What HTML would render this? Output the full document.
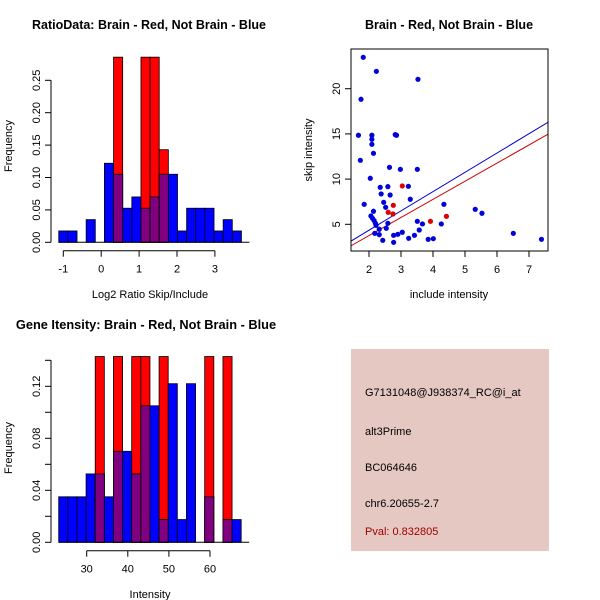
<!DOCTYPE html>
<html><head><meta charset="utf-8"><style>
body{margin:0;background:#fff}
svg{display:block;font-family:"Liberation Sans",sans-serif}
</style></head><body>
<svg id="s" width="600" height="600" viewBox="0 0 600 600">
<rect width="600" height="600" fill="#fff"/>
<text x="149" y="29" text-anchor="middle" font-weight="bold" font-size="12.5">RatioData: Brain - Red, Not Brain - Blue</text>
<text x="449" y="29" text-anchor="middle" font-weight="bold" font-size="12.5">Brain - Red, Not Brain - Blue</text>
<text x="146" y="329" text-anchor="middle" font-weight="bold" font-size="12.8">Gene Itensity: Brain - Red, Not Brain - Blue</text>
<text x="150" y="298" text-anchor="middle" font-size="11">Log2 Ratio Skip/Include</text>
<text transform="translate(12,146) rotate(-90)" text-anchor="middle" font-size="11">Frequency</text>
<text x="449" y="298" text-anchor="middle" font-size="11">include intensity</text>
<text transform="translate(312,150) rotate(-90)" text-anchor="middle" font-size="11">skip intensity</text>
<text x="150" y="598" text-anchor="middle" font-size="11">Intensity</text>
<text transform="translate(12,448) rotate(-90)" text-anchor="middle" font-size="11">Frequency</text>
<g>
<rect x="351" y="349" width="198" height="202" fill="#e5c8c1"/>
<text x="365" y="396" font-size="11">G7131048@J938374_RC@i_at</text>
<text x="365" y="435" font-size="11">alt3Prime</text>
<text x="365" y="471" font-size="11">BC064646</text>
<text x="365" y="507" font-size="11">chr6.20655-2.7</text>
<text x="365" y="535" font-size="11" fill="#a00000">Pval: 0.832805</text>
</g>
<g id="g"></g>
</svg>
<script>
// Ratio histogram
const ratioStart = -1.12, ratioBinW = 0.241;
const ratioBlue = [0.0175,0.0175,0,0.035,0,0.122,0.105,0.0526,0.07,0.0526,0.07,0.105,0.105,0.0175,0.0526,0.0526,0.0526,0.0175,0.035,0.0175];
const ratioRed = [0,0,0,0,0,0,0.2857,0,0,0.2857,0.2857,0.1429,0,0,0,0,0,0,0,0];
const ratioXTicks = [-1,0,1,2,3];
const ratioYTicks = [0,0.05,0.10,0.15,0.20,0.25];
const ratioYLabels = ["0.00","0.05","0.10","0.15","0.20","0.25"];
// Intensity histogram
const intStart = 23.19, intBinW = 2.22;
const intBlue = [0.035,0.035,0.035,0.0526,0.0526,0.035,0.07,0.07,0.0526,0.105,0.105,0.0175,0.122,0.0175,0.122,0,0.035,0,0.0175,0.0175];
const intRed = [0,0,0,0,0.1429,0,0.1429,0,0.1429,0.1429,0,0.1429,0,0,0,0,0.1429,0,0.1429,0];
const intXTicks = [30,40,50,60];
const intYTicks = [0,0.02,0.04,0.06,0.08,0.10,0.12,0.14];
const intYLabels = ["0.00","","0.04","","0.08","","0.12",""];
// Scatter
const blueX = [1.82,2.23,3.53,1.75,1.67,2.09,2.09,2.09,2.14,1.73,2.82,2.86,2.64,2.98,3.51,2.04,2.35,2.59,3.23,2.38,2.66,3.29,1.85,2.46,2.52,2.14,4.34,5.32,5.53,2.06,2.11,2.16,2.2,2.22,2.59,2.54,2.32,3.51,3.67,4.26,3.57,2.18,2.32,2.43,2.77,2.9,3.04,2.77,3.24,3.42,3.85,4.01,6.51,7.39];
const blueY = [23.47,21.92,21.04,18.83,14.85,14.85,14.4,13.85,12.85,12.08,14.92,14.85,11.3,11.08,11.08,10.09,9.09,9.17,9.2,8.36,8.24,7.77,7.21,7.43,6.88,6.44,7.21,6.66,6.22,5.92,5.66,5.41,5.11,4.89,5.11,4.56,4.45,5.33,5.04,5.04,4.37,4.0,3.86,3.23,3.78,3.89,4.12,3.01,3.45,3.78,3.34,3.41,4.0,3.34];
const redX = [3.04,2.76,2.6,2.75,3.92,4.42];
const redY = [9.24,7.1,6.33,6.14,5.33,5.88];
const fitBlue = [0.076,2.135]; // intercept, slope
const fitRed = [-0.26,2.005];
const scXTicks = [2,3,4,5,6,7];
const scYTicks = [5,10,15,20];

const NS="http://www.w3.org/2000/svg", G=document.getElementById('g');
function mk(t,a,p){const e=document.createElementNS(NS,t);for(const k in a)e.setAttribute(k,a[k]);(p||G).appendChild(e);return e;}

function hist(start,bw,blue,red,xs,ys,ym,xt,yt,yl,axY,pref){
  const g=mk('g',{});
  
  
  const y0=ys(0);
  blue.forEach((v,i)=>{
    const x1=xs(start+i*bw),x2=xs(start+(i+1)*bw),r=red[i];
    if(v>0){const b=mk('rect',{x:x1,y:ys(v),width:x2-x1,height:y0-ys(v),fill:'#0000ff',stroke:'#000','stroke-width':0.8},g);
      
      }
    if(r>0){const rr=mk('rect',{x:x1,y:ys(r),width:x2-x1,height:y0-ys(r),fill:'#ff0000',stroke:'#000','stroke-width':0.8},g);
      
      
      if(v>0){const m=Math.min(v,r);const pp=mk('rect',{x:x1,y:ys(m),width:x2-x1,height:y0-ys(m),fill:'#800080',stroke:'#000','stroke-width':0.8},g);
        
        }}
  });
  mk('line',{x1:51,x2:51,y1:ys(yt[0]),y2:ys(yt[yt.length-1]),stroke:'#000'},g);
  yt.forEach((t,i)=>{mk('line',{x1:45,x2:51,y1:ys(t),y2:ys(t),stroke:'#000'},g);
    if(yl[i]){const tx=mk('text',{transform:`translate(40,${ys(t)}) rotate(-90)`,'text-anchor':'middle','font-size':11},g);tx.textContent=yl[i];
      
      }});
  mk('line',{x1:xs(start),x2:xs(start+blue.length*bw)+8,y1:y0,y2:y0,stroke:'#000'},g);
  mk('line',{x1:xs(xt[0]),x2:xs(xt[xt.length-1]),y1:axY,y2:axY,stroke:'#000'},g);
  xt.forEach(t=>{mk('line',{x1:xs(t),x2:xs(t),y1:axY,y2:axY+6,stroke:'#000'},g);
    const tx=mk('text',{x:xs(t),y:axY+22,'text-anchor':'middle','font-size':11},g);tx.textContent=t;
    
    });
}
hist(ratioStart,ratioBinW,ratioBlue,ratioRed,v=>63.3+(v+1)*37.9,v=>242.3-v*648,0,ratioXTicks,ratioYTicks,ratioYLabels,250.7,'ratio');
hist(intStart,intBinW,intBlue,intRed,v=>86.7+(v-30)*4.11,v=>542.3-v*1300,0,intXTicks,intYTicks,intYLabels,550.7,'intensity');

const sx=v=>369+(v-2)*32, sy=v=>224.3-(v-5)*9.04;
const sg=mk('g',{});


const cp=mk('clipPath',{id:'cp'},sg);mk('rect',{x:351,y:49,width:197,height:202},cp);
[[fitBlue,'#0000cc'],[fitRed,'#cc0000']].forEach(([f,c])=>{
  const x1=1.44,x2=7.6;
  const l=mk('line',{x1:sx(x1),x2:sx(x2),y1:sy(f[0]+f[1]*x1),y2:sy(f[0]+f[1]*x2),stroke:c,'clip-path':'url(#cp)'},sg);
  
  
});
blueX.forEach((x,i)=>{const c=mk('circle',{cx:sx(x),cy:sy(blueY[i]),r:2.6,fill:'#0000dd'},sg);
  
  });
redX.forEach((x,i)=>{const c=mk('circle',{cx:sx(x),cy:sy(redY[i]),r:2.6,fill:'#dd0000'},sg);
  
  });
mk('rect',{x:351,y:49,width:197,height:202,fill:'none',stroke:'#000'},sg);
scXTicks.forEach(t=>{mk('line',{x1:sx(t),x2:sx(t),y1:251,y2:257,stroke:'#000'},sg);
  const tx=mk('text',{x:sx(t),y:273,'text-anchor':'middle','font-size':11},sg);tx.textContent=t;
  
  });
scYTicks.forEach(t=>{mk('line',{x1:345,x2:351,y1:sy(t),y2:sy(t),stroke:'#000'},sg);
  const tx=mk('text',{transform:`translate(340,${sy(t)}) rotate(-90)`,'text-anchor':'middle','font-size':11},sg);tx.textContent=t;
  
  });
</script>
</body></html>
